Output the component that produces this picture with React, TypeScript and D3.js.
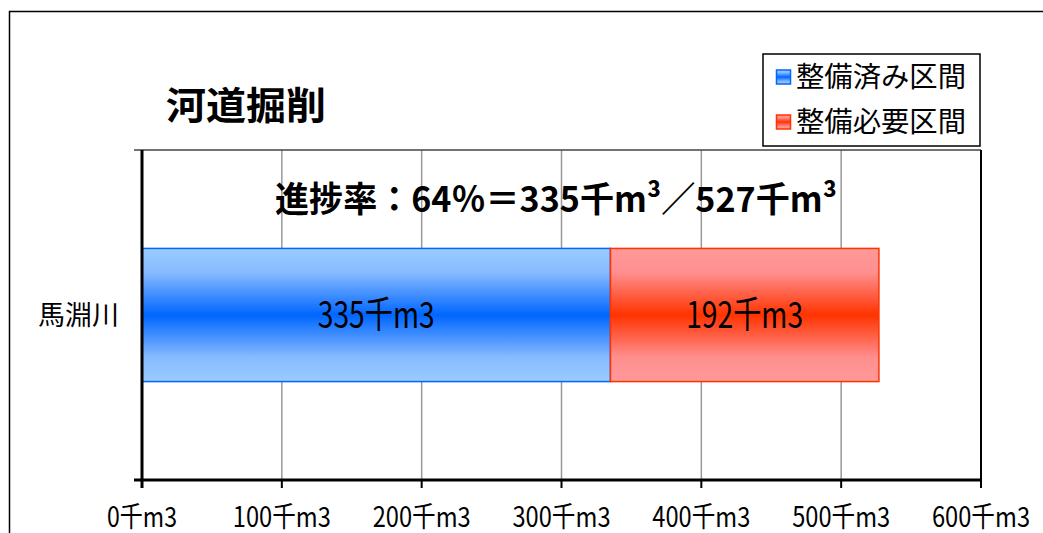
import React from "react";
import * as d3 from "d3";

const categories = ["馬淵川"];
const doneValues = [335];
const neededValues = [192];
const seriesNames = ["整備済み区間", "整備必要区間"];
const xTicks = [0, 100, 200, 300, 400, 500, 600];
const title = "河道掘削";
const totalValue = 527;
const progressPct = 64;

const W = 1043;
const H = 533;
const FONT = "'Noto Sans CJK JP', 'Noto Sans', sans-serif";

function units(s: string, half: number, full: number) {
  let w = 0;
  for (const ch of s) {
    const c = ch.codePointAt(0) || 0;
    w += c > 255 ? full : half;
  }
  return w;
}

export default function App() {
  const plotL = 142, plotR = 981, plotT = 150, plotB = 480;
  const x = d3.scaleLinear().domain([0, 600]).range([plotL, plotR]);
  const y = d3.scaleBand<string>().domain(categories).range([plotT, plotB]).paddingInner(0.425).paddingOuter(0.425);
  const fmt = (d: number) => `${d}千m3`;

  const subtitle = `進捗率：${progressPct}％＝${doneValues[0]}千m³／${totalValue}千m³`;

  return (
    <svg width={W} height={H} style={{ position: "absolute", left: 0, top: 0, display: "block", background: "#fff" }} fontFamily={FONT}>
      <defs>
        <linearGradient id="gBlue" x1="0" y1="0" x2="0" y2="1">
          <stop offset="0" stopColor="#99ccff" />
          <stop offset="0.18" stopColor="#88bbff" />
          <stop offset="0.5" stopColor="#0066ff" />
          <stop offset="0.82" stopColor="#88bbff" />
          <stop offset="1" stopColor="#99ccff" />
        </linearGradient>
        <linearGradient id="gRed" x1="0" y1="0" x2="0" y2="1">
          <stop offset="0" stopColor="#ff9999" />
          <stop offset="0.18" stopColor="#ff8f8f" />
          <stop offset="0.5" stopColor="#ff3300" />
          <stop offset="0.82" stopColor="#ff8f8f" />
          <stop offset="1" stopColor="#ff9999" />
        </linearGradient>
      </defs>

      {/* outer frame */}
      <rect x={9.5} y={11.5} width={1100} height={600} fill="#fff" stroke="#000" strokeWidth={1.5} />

      {/* gridlines */}
      {xTicks.slice(1, -1).map((t) => (
        <line key={"g" + t} x1={x(t)} x2={x(t)} y1={plotT} y2={plotB} stroke="#999" strokeWidth={1.5} />
      ))}
      {/* plot top border */}
      <line x1={plotL - 8} x2={plotR} y1={plotT} y2={plotT} stroke="#444" strokeWidth={1.5} />
      {/* right border */}
      <line x1={plotR} x2={plotR} y1={plotT} y2={plotB + 8} stroke="#000" strokeWidth={2} />

      {/* bars */}
      {categories.map((c, i) => {
        const y0 = y(c)!;
        const bw = y.bandwidth();
        const x0 = x(0), x1 = x(doneValues[i]), x2 = x(doneValues[i] + neededValues[i]);
        const l1 = fmt(doneValues[i]);
        const l2 = fmt(neededValues[i]);
        return (
          <g key={c}>
            <rect x={x0} y={y0} width={x1 - x0} height={bw} fill="url(#gBlue)" stroke="#0066ff" strokeWidth={1.5} />
            <rect x={x1} y={y0} width={x2 - x1} height={bw} fill="url(#gRed)" stroke="#ff3300" strokeWidth={1.5} />
            <text x={(x0 + x1) / 2} y={y0 + bw / 2 + 13} textAnchor="middle" fontSize={37}
              textLength={units(l1, 16.7, 33.4)} lengthAdjust="spacingAndGlyphs" fill="#000">{l1}</text>
            <text x={(x1 + x2) / 2} y={y0 + bw / 2 + 13} textAnchor="middle" fontSize={37}
              textLength={units(l2, 16.7, 33.4)} lengthAdjust="spacingAndGlyphs" fill="#000">{l2}</text>
            <text x={119} y={y0 + bw / 2 + 10} textAnchor="end" fontSize={27} fill="#000">{c}</text>
          </g>
        );
      })}

      {/* axes */}
      <line x1={plotL} x2={plotL} y1={plotT} y2={plotB + 8} stroke="#000" strokeWidth={3} />
      <line x1={plotL - 8} x2={plotL} y1={plotB} y2={plotB} stroke="#000" strokeWidth={2} />
      <line x1={plotL - 8} x2={plotR} y1={plotB} y2={plotB} stroke="#000" strokeWidth={3} />
      {xTicks.map((t) => (
        <g key={"t" + t}>
          <line x1={x(t)} x2={x(t)} y1={plotB} y2={plotB + 8} stroke="#000" strokeWidth={2} />
          <text x={x(t)} y={527} textAnchor="middle" fontSize={28}
            textLength={units(fmt(t), 14, 28)} lengthAdjust="spacingAndGlyphs" fill="#000">{fmt(t)}</text>
        </g>
      ))}

      {/* title */}
      <text x={166} y={119} fontSize={38} fontWeight="bold" fill="#000"
        textLength={160} lengthAdjust="spacingAndGlyphs">{title}</text>

      {/* subtitle */}
      <text x={275} y={212} fontSize={35} fontWeight="bold" fill="#000"
        textLength={562} lengthAdjust="spacingAndGlyphs">{subtitle}</text>

      {/* legend */}
      <rect x={763} y={54} width={217} height={92} fill="#fff" stroke="#000" strokeWidth={1.5} />
      {seriesNames.map((s, i) => {
        const cy = 77 + i * 45;
        return (
          <g key={s}>
            <rect x={776.5} y={cy - 7} width={14} height={14} fill={i === 0 ? "url(#gBlue)" : "url(#gRed)"}
              stroke={i === 0 ? "#0066ff" : "#ff3300"} strokeWidth={1.5} />
            <text x={796} y={cy + 10} fontSize={28} fill="#000" textLength={170} lengthAdjust="spacingAndGlyphs">{s}</text>
          </g>
        );
      })}
    </svg>
  );
}
